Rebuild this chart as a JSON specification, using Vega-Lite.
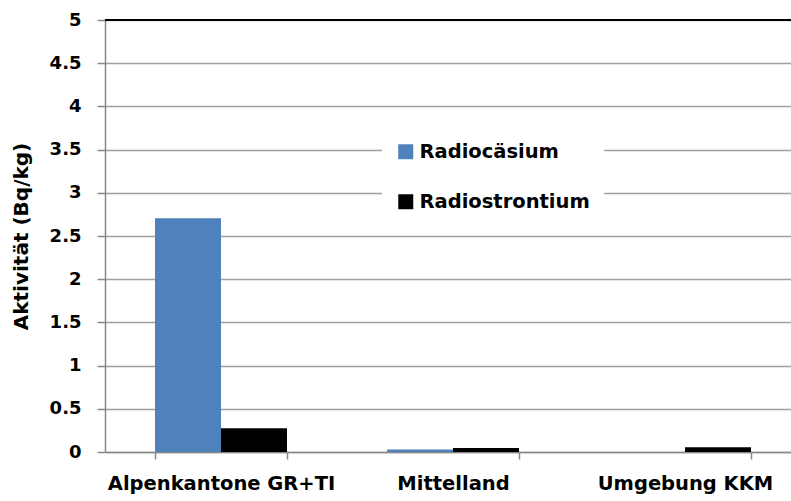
{
  "$schema": "https://vega.github.io/schema/vega-lite/v6.json",
  "autosize": "none",
  "padding": {"left": 105, "top": 20, "right": 0, "bottom": 49},
  "width": 696,
  "height": 432,
  "background": "white",
  "config": {
    "view": {"stroke": null},
    "font": "DejaVu Sans",
    "axis": {"labelFont": "DejaVu Sans", "titleFont": "DejaVu Sans"},
    "legend": {"labelFont": "DejaVu Sans"}
  },
  "data": {
    "values": [
      {"region": "Alpenkantone GR+TI", "nuklid": "Radiocäsium", "wert": 2.705},
      {"region": "Alpenkantone GR+TI", "nuklid": "Radiostrontium", "wert": 0.275},
      {"region": "Mittelland", "nuklid": "Radiocäsium", "wert": 0.03},
      {"region": "Mittelland", "nuklid": "Radiostrontium", "wert": 0.045},
      {"region": "Umgebung KKM", "nuklid": "Radiocäsium", "wert": 0},
      {"region": "Umgebung KKM", "nuklid": "Radiostrontium", "wert": 0.055}
    ]
  },
  "layer": [
    {
      "mark": {"type": "bar"},
      "encoding": {
        "x": {
          "field": "region",
          "type": "nominal",
          "sort": ["Alpenkantone GR+TI", "Mittelland", "Umgebung KKM"],
          "scale": {"paddingInner": 0.431, "paddingOuter": 0.2155},
          "axis": {
            "title": null,
            "labelAngle": 0,
            "labelFontSize": 19.5,
            "labelFontWeight": "bold",
            "labelColor": "black",
            "labelPadding": 15,
            "labelLimit": 0,
            "tickBand": "extent",
            "tickSize": 7,
            "tickColor": "#888888",
            "tickWidth": 1.5,
            "domainColor": "#888888",
            "domainWidth": 1.5,
            "grid": false
          }
        },
        "xOffset": {"field": "nuklid", "type": "nominal", "sort": ["Radiocäsium", "Radiostrontium"]},
        "y": {
          "field": "wert",
          "type": "quantitative",
          "scale": {"domain": [0, 5], "nice": false},
          "axis": {
            "title": "Aktivität (Bq/kg)",
            "titleFontSize": 20,
            "titleFontWeight": "bold",
            "titleColor": "black",
            "titlePadding": 18,
            "values": [0, 0.5, 1, 1.5, 2, 2.5, 3, 3.5, 4, 4.5, 5],
            "format": "~g",
            "labelFontSize": 18,
            "labelFontWeight": "bold",
            "labelColor": "black",
            "labelPadding": 16,
            "tickSize": 8,
            "tickColor": "#888888",
            "tickWidth": 1.5,
            "domainColor": "#888888",
            "domainWidth": 1.5,
            "grid": true,
            "gridColor": "#a0a0a0",
            "gridWidth": 1.5
          }
        },
        "color": {
          "field": "nuklid",
          "type": "nominal",
          "sort": ["Radiocäsium", "Radiostrontium"],
          "scale": {"range": ["#4F81BD", "#000000"]},
          "legend": {
            "title": null,
            "orient": "none",
            "legendX": 277,
            "legendY": 108,
            "fillColor": "white",
            "padding": 14,
            "symbolType": "square",
            "symbolSize": 225,
            "symbolStrokeWidth": 0,
            "labelFontSize": 19.5,
            "labelFontWeight": "bold",
            "labelColor": "black",
            "labelOffset": 4,
            "labelLimit": 0,
            "rowPadding": 29
          }
        }
      }
    },
    {
      "mark": {"type": "rule", "color": "black", "strokeWidth": 2},
      "encoding": {"y": {"datum": 5}}
    }
  ]
}
